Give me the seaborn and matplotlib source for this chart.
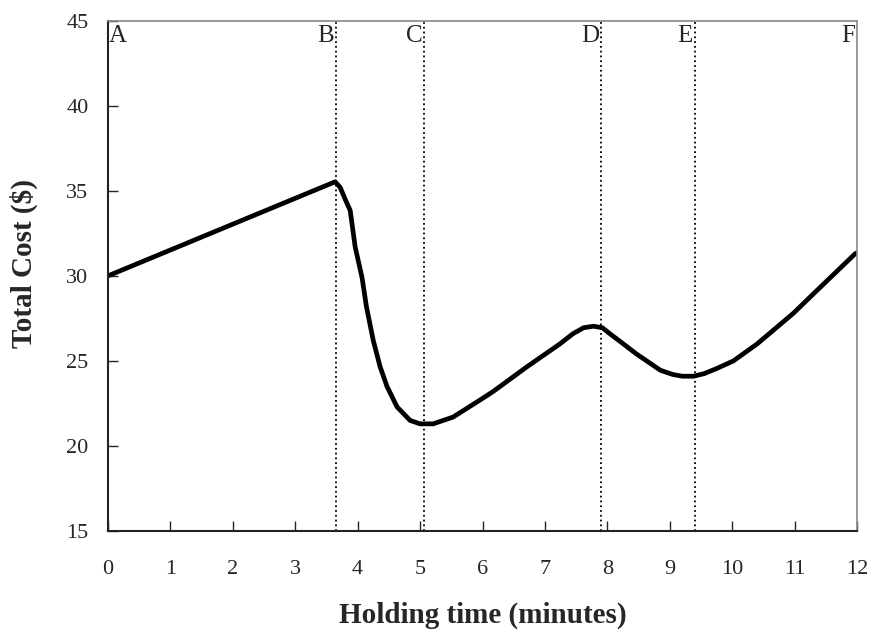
import numpy as np
import matplotlib
matplotlib.use("Agg")
import matplotlib.pyplot as plt
import seaborn as sns

# values
holding_time = [0, 1, 2, 3, 3.64, 3.72, 3.8, 3.88, 3.96, 4.07, 4.14, 4.25, 4.36,
                4.47, 4.63, 4.84, 5.0, 5.21, 5.53, 5.96, 6.17, 6.71, 7.24, 7.45,
                7.62, 7.78, 7.92, 8.04, 8.22, 8.47, 8.85, 9.05, 9.2, 9.38, 9.55,
                9.75, 10.02, 10.4, 10.98, 11.36, 11.97, 12.0]
total_cost = [30.0, 31.52, 33.04, 34.56, 35.53, 35.2, 34.5, 33.85, 31.7, 29.9,
              28.2, 26.2, 24.65, 23.5, 22.3, 21.5, 21.3, 21.3, 21.7, 22.7, 23.2,
              24.65, 26.0, 26.6, 26.95, 27.04, 26.95, 26.6, 26.1, 25.4, 24.45,
              24.2, 24.1, 24.1, 24.25, 24.55, 25.0, 26.0, 27.8, 29.15, 31.3,
              31.35]

region_edges = [0, 3.65, 5.07, 7.9, 9.4, 12]
region_labels = ["A", "B", "C", "D", "E", "F"]
divider_x = [3.65, 5.07, 7.9, 9.4]

sns.set_style("ticks")
plt.rcParams['font.family'] = ['Liberation Serif', 'DejaVu Serif']

fig = plt.figure(figsize=(8.73, 6.39), dpi=100)
ax = fig.add_axes([0.1237, 0.169, 0.858, 0.7986])

sns.lineplot(x=holding_time, y=total_cost, ax=ax, color="black", linewidth=3.4)

for xv in divider_x:
    ax.axvline(xv, color="black", linestyle=":", linewidth=1.3)

for xv, lab in zip(region_edges, region_labels):
    ha = "left" if xv == 0 else "right"
    off = 0.02 if xv == 0 else -0.03
    ax.text(xv + off, 44.75, lab, ha=ha, va="top", fontsize=18)

ax.set_xlim(0, 12)
ax.set_ylim(15, 45)
ax.set_xticks(range(0, 13))
ax.set_yticks(range(15, 46, 5))
ax.tick_params(direction="in", length=7, width=1, labelsize=16)
ax.tick_params(axis="x", pad=21)
ax.tick_params(axis="y", pad=14)

for s in ["top", "right"]:
    ax.spines[s].set_color("#888888")
    ax.spines[s].set_linewidth(1.2)
for s in ["left", "bottom"]:
    ax.spines[s].set_color("#222222")
    ax.spines[s].set_linewidth(1.5)

ax.set_xlabel("Holding time (minutes)", fontsize=21, fontweight="bold", labelpad=16)
ax.set_ylabel("Total Cost ($)", fontsize=21, fontweight="bold")
ax.yaxis.set_label_coords(-0.094, 0.525)

fig.savefig("out.png", dpi=100)
